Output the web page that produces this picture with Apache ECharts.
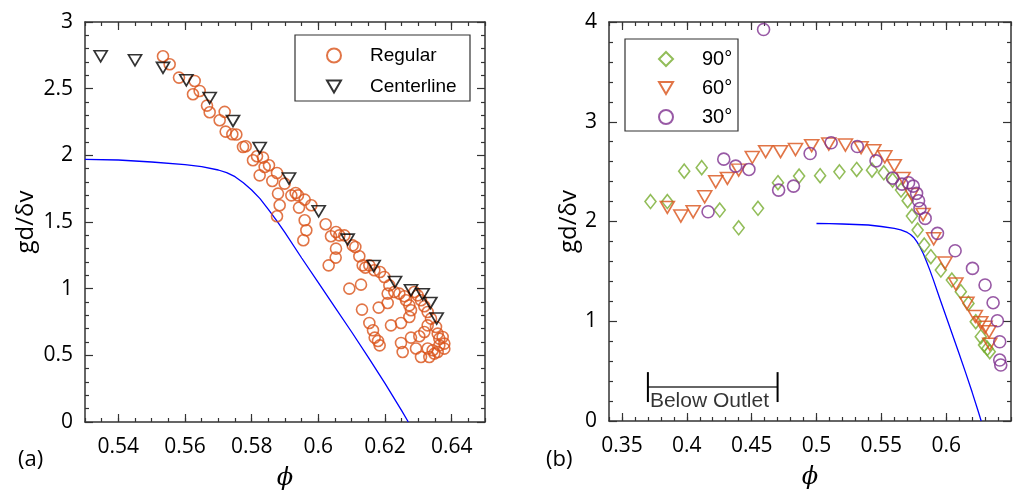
<!DOCTYPE html>
<html>
<head>
<meta charset="utf-8">
<script src="https://cdn.jsdelivr.net/npm/echarts@6/dist/echarts.min.js"></script>
<style>
  html, body { margin: 0; padding: 0; background: #fff; }
  #chart { width: 1014px; height: 491px; }
</style>
</head>
<body>
<div id="chart"></div>
<script>
// ---- Panel (a): packing fraction vs. normalised granular temperature ----
const regularPhi = [
  0.5534, 0.5554, 0.5582, 0.5629, 0.5644, 0.5624, 0.5666, 0.5674, 0.5719, 0.5704,
  0.5722, 0.5742, 0.5754, 0.5774, 0.5782, 0.5816, 0.5834, 0.5804, 0.5839, 0.5824,
  0.5852, 0.5862, 0.5876, 0.5899, 0.5879, 0.5884, 0.5876, 0.5919, 0.5932, 0.5939,
  0.5959, 0.5942, 0.5979, 0.5959, 0.5964, 0.5955, 0.6022, 0.6038, 0.6053, 0.6063,
  0.6078, 0.6053, 0.6052, 0.6031, 0.6111, 0.6123, 0.6141, 0.6153, 0.6168, 0.6185,
  0.6198, 0.6213, 0.6093, 0.6128, 0.6208, 0.6228, 0.6243, 0.6258, 0.6263, 0.6273,
  0.6278, 0.6273, 0.6248, 0.6218, 0.6208, 0.6181, 0.6131, 0.6153, 0.6164, 0.6169,
  0.6179, 0.6184, 0.6278, 0.6303, 0.6248, 0.6253, 0.6293, 0.6308, 0.6333, 0.6328,
  0.6343, 0.6318, 0.6328, 0.6338, 0.6328, 0.6318, 0.6308, 0.6298, 0.6288, 0.6353,
  0.6358, 0.6363, 0.6363, 0.6358, 0.6348, 0.6373, 0.6378, 0.6378, 0.6103, 0.6133
];
const regularG = [
  2.743, 2.683, 2.583, 2.558, 2.483, 2.458, 2.373, 2.323, 2.326, 2.263,
  2.178, 2.158, 2.156, 2.063, 2.068, 1.993, 1.983, 1.963, 1.913, 1.850,
  1.926, 1.808, 1.868, 1.788, 1.713, 1.626, 1.543, 1.700, 1.718, 1.700,
  1.668, 1.608, 1.626, 1.513, 1.438, 1.363, 1.483, 1.393, 1.425, 1.400,
  1.400, 1.300, 1.233, 1.175, 1.313, 1.243, 1.158, 1.175, 1.138, 1.125,
  1.088, 1.025, 1.000, 1.030, 0.963, 0.975, 0.963, 0.943, 0.913, 0.875,
  0.838, 0.788, 0.743, 0.725, 0.893, 0.858, 0.843, 0.743, 0.688, 0.633,
  0.608, 0.575, 0.633, 0.643, 0.593, 0.525, 0.551, 0.488, 0.488, 0.551,
  0.538, 0.675, 0.725, 0.775, 0.825, 0.868, 0.913, 0.950, 0.975, 0.713,
  0.663, 0.625, 0.575, 0.525, 0.513, 0.638, 0.588, 0.550, 1.325, 1.175
];
const centerPhi = [0.5347, 0.5450, 0.5534, 0.5604, 0.5674, 0.5744, 0.5824, 0.5912,
                   0.6001, 0.6088, 0.6166, 0.6230, 0.6278, 0.6313, 0.6336, 0.6355];
const centerG = [2.743, 2.713, 2.656, 2.563, 2.430, 2.258, 2.055, 1.826,
                 1.580, 1.368, 1.170, 1.050, 0.988, 0.958, 0.893, 0.776];

// ---- Kinetic-theory curve (shared by both panels) ----
const curvePhi = [0.50, 0.51, 0.52, 0.53, 0.54, 0.55, 0.56, 0.565, 0.57, 0.5725, 0.575, 0.5775,
                  0.58, 0.5825, 0.585, 0.5875, 0.59, 0.595, 0.60, 0.605, 0.61, 0.615, 0.62,
                  0.625, 0.627];
const curveG = [1.98, 1.978, 1.975, 1.97, 1.965, 1.95, 1.93, 1.915, 1.89, 1.87, 1.84, 1.795,
                1.74, 1.675, 1.595, 1.51, 1.42, 1.23, 1.045, 0.86, 0.675, 0.485, 0.29,
                0.085, 0.0];

// ---- Panel (b): inclination angles ----
const deg90Phi = [0.372, 0.385, 0.398, 0.4115, 0.4254, 0.440, 0.4549, 0.4703, 0.4866, 0.5028,
                  0.5177, 0.5310, 0.5428, 0.5519, 0.5587, 0.5652, 0.5703, 0.5736, 0.5780, 0.5831,
                  0.5882, 0.5959, 0.6044, 0.6113, 0.6172, 0.6228, 0.6267, 0.6292, 0.6318, 0.6336];
const deg90G = [2.20, 2.20, 2.505, 2.54, 2.115, 1.937, 2.132, 2.389, 2.455, 2.459,
                2.498, 2.522, 2.515, 2.488, 2.415, 2.315, 2.208, 2.055, 1.914, 1.764,
                1.647, 1.513, 1.413, 1.296, 1.179, 0.995, 0.845, 0.762, 0.728, 0.695];
const deg60Phi = [0.385, 0.3954, 0.4049, 0.4138, 0.4223, 0.4313, 0.440, 0.4505, 0.4608, 0.4723,
                  0.4838, 0.4963, 0.5095, 0.5223, 0.5344, 0.5442, 0.5527, 0.5600, 0.5668, 0.5735,
                  0.5822, 0.5904, 0.5991, 0.6075, 0.6160, 0.6225, 0.6267, 0.6300, 0.6331, 0.6336];
const deg60G = [2.141, 2.054, 2.097, 2.248, 2.398, 2.432, 2.515, 2.642, 2.70, 2.70,
                2.722, 2.76, 2.776, 2.766, 2.74, 2.709, 2.649, 2.56, 2.432, 2.27,
                2.07, 1.826, 1.583, 1.373, 1.18, 1.048, 0.985, 0.94, 0.895, 0.77];
const deg30Phi = [0.4164, 0.4285, 0.4377, 0.4479, 0.4592, 0.4708, 0.4823, 0.4951, 0.5113, 0.5315,
                  0.5459, 0.5587, 0.5659, 0.5710, 0.5746, 0.5772, 0.5787, 0.5798, 0.5838, 0.5933,
                  0.6069, 0.6203, 0.6300, 0.6362, 0.6395, 0.6413, 0.6413, 0.6421];
const deg30G = [2.098, 2.625, 2.555, 2.522, 3.925, 2.315, 2.355, 2.682, 2.789, 2.752,
                2.608, 2.435, 2.375, 2.388, 2.355, 2.282, 2.208, 2.131, 2.031, 1.881,
                1.707, 1.53, 1.363, 1.186, 1.005, 0.795, 0.611, 0.561];

// Axis tick labels
const ticksPhiA = [0.54, 0.56, 0.58, 0.60, 0.62, 0.64];
const ticksPhiB = [0.35, 0.40, 0.45, 0.50, 0.55, 0.60];

// "Below Outlet" bracket
const outletSpan = [0.37, 0.47];
const outletLevel = 0.34;
const outletBar = [0.19, 0.49];
const outletTextLevel = 0.2;

const zip = (xs, ys) => xs.map((x, i) => [x, ys[i]]);

const ORANGE = '#D95319', GREEN = '#77AC30', PURPLE = '#7E2F8E';
const AXIS_COLOR = '#333';
const tickFont = { fontFamily: 'Open Sans', fontSize: 21, color: '#000' };
const invTriangle = 'path://M0,0 L14,0 L7,12 Z';
const fmt = v => String(+(+v).toFixed(3));

function xAxes(grid, min, max, majors, minorStep) {
  const base = { type: 'value', gridIndex: grid, min, max, splitLine: { show: false } };
  const line = { show: true, onZero: false, lineStyle: { color: AXIS_COLOR, width: 1.5 } };
  return [
    Object.assign({}, base, {
      position: 'bottom', axisLine: line,
      axisTick: { show: true, inside: true, length: 8, customValues: majors, lineStyle: { color: AXIS_COLOR, width: 1.2 } },
      axisLabel: { show: true, customValues: majors, formatter: fmt, margin: 15, ...tickFont },
      name: 'ϕ', nameLocation: 'middle', nameGap: 45,
      nameTextStyle: { fontFamily: 'DejaVu Serif', fontStyle: 'italic', fontSize: 24, color: '#000' }
    }),
    Object.assign({}, base, {
      position: 'bottom', interval: minorStep, axisLine: { show: false, onZero: false },
      axisTick: { show: true, inside: true, length: 4, lineStyle: { color: AXIS_COLOR, width: 1.2 } },
      axisLabel: { show: false }
    }),
    Object.assign({}, base, {
      position: 'top', axisLine: line,
      axisTick: { show: true, inside: true, length: 8, customValues: majors, lineStyle: { color: AXIS_COLOR, width: 1.2 } },
      axisLabel: { show: false }
    }),
    Object.assign({}, base, {
      position: 'top', interval: minorStep, axisLine: { show: false, onZero: false },
      axisTick: { show: true, inside: true, length: 4, lineStyle: { color: AXIS_COLOR, width: 1.2 } },
      axisLabel: { show: false }
    })
  ];
}

function yAxes(grid, max, step, nameGap) {
  const base = {
    type: 'value', gridIndex: grid, min: 0, max, interval: step, splitLine: { show: false },
    axisLine: { show: true, onZero: false, lineStyle: { color: AXIS_COLOR, width: 1.5 } },
    axisTick: { show: true, inside: true, length: 8, lineStyle: { color: AXIS_COLOR, width: 1.2 } },
    minorTick: { show: true, splitNumber: 5, length: 4, lineStyle: { color: AXIS_COLOR, width: 1.2 } }
  };
  return [
    Object.assign({}, base, {
      position: 'left',
      axisLabel: { show: true, formatter: fmt, margin: 12, ...tickFont },
      name: 'gd/δv', nameLocation: 'middle', nameRotate: 90, nameGap,
      nameTextStyle: { fontFamily: 'Open Sans', fontSize: 24, color: '#000' }
    }),
    Object.assign({}, base, { position: 'right', axisLabel: { show: false } })
  ];
}

const hollow = (color, w) => ({ color: 'rgba(0,0,0,0)', borderColor: color, borderWidth: w });

const chart = echarts.init(document.getElementById('chart'), null, { renderer: 'canvas' });
chart.setOption({
  animation: false,
  backgroundColor: '#fff',
  grid: [
    { left: 85, top: 22, width: 400, height: 400, containLabel: false, outerBoundsMode: 'none' },
    { left: 609, top: 22, width: 402, height: 399, containLabel: false, outerBoundsMode: 'none' }
  ],
  xAxis: [
    ...xAxes(0, 0.53, 0.65, ticksPhiA, 0.005),
    ...xAxes(1, 0.34, 0.65, ticksPhiB, 0.01)
  ],
  yAxis: [
    ...yAxes(0, 3, 0.5, 47),
    ...yAxes(1, 4, 1, 28)
  ],
  legend: [
    {
      orient: 'vertical', left: 321, top: 41, itemWidth: 14, itemHeight: 14, itemGap: 12,
      data: ['Regular', 'Centerline'], selectedMode: false,
      textStyle: { fontFamily: 'Liberation Sans', fontSize: 19, color: '#000', padding: [0, 0, 0, 24] }
    },
    {
      orient: 'vertical', left: 653, top: 44, itemWidth: 14, itemHeight: 14, itemGap: 9,
      data: ['90°', '60°', '30°'], selectedMode: false,
      textStyle: { fontFamily: 'Liberation Sans', fontSize: 20, color: '#000', padding: [0, 0, 0, 24] }
    }
  ],
  graphic: [
    { type: 'rect', shape: { x: 295, y: 35, width: 175, height: 66 }, style: { fill: 'none', stroke: '#333', lineWidth: 1.2 }, z: 5 },
    { type: 'rect', shape: { x: 625, y: 39, width: 113, height: 92 }, style: { fill: 'none', stroke: '#333', lineWidth: 1.2 }, z: 5 },
    { type: 'text', left: 18, top: 449, style: { text: '(a)', fontFamily: 'Open Sans', fontSize: 22, fill: '#000' } },
    { type: 'text', left: 546, top: 449, style: { text: '(b)', fontFamily: 'Open Sans', fontSize: 22, fill: '#000' } }
  ],
  series: [
    {
      name: 'theory-a', type: 'line', xAxisIndex: 0, yAxisIndex: 0, showSymbol: false, silent: true,
      data: zip(curvePhi, curveG).filter(p => p[0] >= 0.53),
      lineStyle: { color: '#0000FF', width: 1.3 }, z: 2
    },
    {
      name: 'Regular', type: 'scatter', xAxisIndex: 0, yAxisIndex: 0,
      symbol: 'circle', symbolSize: 11, itemStyle: hollow(ORANGE, 1.6),
      data: zip(regularPhi, regularG), z: 3
    },
    {
      name: 'Centerline', type: 'scatter', xAxisIndex: 0, yAxisIndex: 0,
      symbol: invTriangle, symbolSize: [13, 11], itemStyle: hollow('#000', 1.7),
      data: zip(centerPhi, centerG), z: 4
    },
    {
      name: 'theory-b', type: 'line', xAxisIndex: 4, yAxisIndex: 2, showSymbol: false, silent: true,
      data: zip(curvePhi, curveG),
      lineStyle: { color: '#0000FF', width: 1.3 }, z: 2
    },
    {
      name: '90°', type: 'scatter', xAxisIndex: 4, yAxisIndex: 2,
      symbol: 'diamond', symbolSize: [11, 14], itemStyle: hollow(GREEN, 1.6),
      data: zip(deg90Phi, deg90G), z: 3
    },
    {
      name: '60°', type: 'scatter', xAxisIndex: 4, yAxisIndex: 2,
      symbol: invTriangle, symbolSize: [14, 12], itemStyle: hollow(ORANGE, 1.6),
      data: zip(deg60Phi, deg60G), z: 4
    },
    {
      name: '30°', type: 'scatter', xAxisIndex: 4, yAxisIndex: 2,
      symbol: 'circle', symbolSize: 12, itemStyle: hollow(PURPLE, 1.6),
      data: zip(deg30Phi, deg30G), z: 5
    },
    {
      name: 'outlet-span', type: 'line', xAxisIndex: 4, yAxisIndex: 2, showSymbol: false, silent: true,
      data: outletSpan.map(x => [x, outletLevel]), lineStyle: { color: '#666', width: 2 }
    },
    {
      name: 'outlet-left', type: 'line', xAxisIndex: 4, yAxisIndex: 2, showSymbol: false, silent: true,
      data: outletBar.map(y => [outletSpan[0], y]), lineStyle: { color: '#000', width: 2 }
    },
    {
      name: 'outlet-right', type: 'line', xAxisIndex: 4, yAxisIndex: 2, showSymbol: false, silent: true,
      data: outletBar.map(y => [outletSpan[1], y]), lineStyle: { color: '#000', width: 2 }
    },
    {
      name: 'outlet-text', type: 'scatter', xAxisIndex: 4, yAxisIndex: 2, silent: true,
      symbolSize: 0, data: [[outletSpan[0], outletTextLevel]],
      label: {
        show: true, position: 'right', distance: 2, formatter: 'Below Outlet',
        fontFamily: 'Liberation Sans', fontSize: 21, color: '#000'
      }
    }
  ]
});
</script>
</body>
</html>
